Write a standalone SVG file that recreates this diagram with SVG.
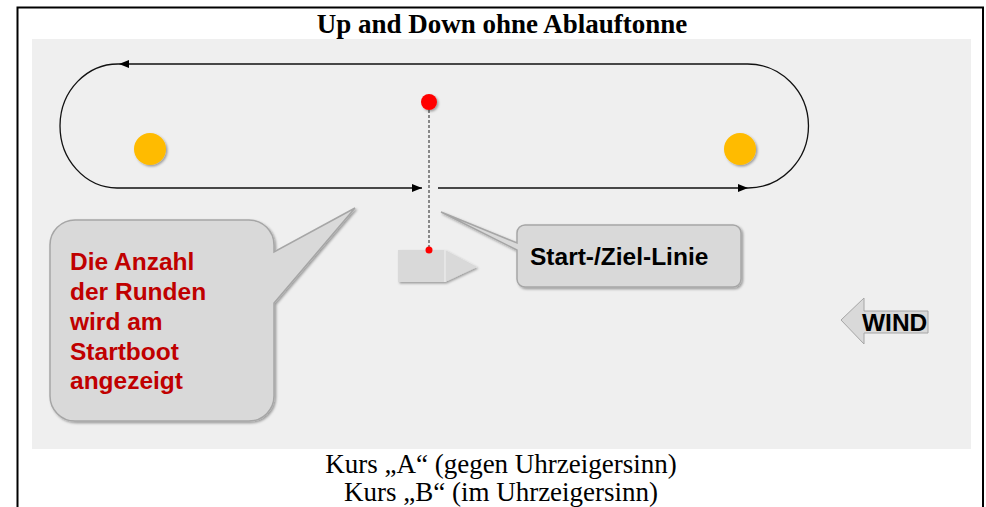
<svg xmlns="http://www.w3.org/2000/svg" width="986" height="507" viewBox="0 0 986 507">
<defs>
<style>
.title{font-family:"Liberation Serif","Times New Roman",serif;font-weight:bold;font-size:27px;fill:#000}
.cap{font-family:"Liberation Serif","Times New Roman",serif;font-size:27px;fill:#000}
.red{font-family:"Liberation Sans",Arial,sans-serif;font-weight:bold;font-size:24.5px;fill:#C00000}
.blk{font-family:"Liberation Sans",Arial,sans-serif;font-weight:bold;font-size:24.5px;fill:#000}
.track{fill:none;stroke:#111;stroke-width:1.3}
.bubble{fill:#d9d9d9;stroke:#a6a6a6;stroke-width:1.5}
</style>
<marker id="ah" viewBox="0 0 10 10" refX="10" refY="5" markerWidth="10" markerHeight="10" markerUnits="userSpaceOnUse" orient="auto">
<path d="M0,1 L10,5 L0,9 Z" fill="#000"/>
</marker>
<filter id="sh" x="-30%" y="-30%" width="160%" height="160%">
<feDropShadow dx="1.5" dy="1.5" stdDeviation="1" flood-color="#000" flood-opacity="0.35"/>
</filter>
</defs>
<rect x="0" y="0" width="986" height="507" fill="#fff"/>
<path d="M17.5,515 V7.5 H983 V515" fill="none" stroke="#000" stroke-width="2"/>
<rect x="32" y="39" width="939" height="410" fill="#efefef"/>
<text class="title" x="502" y="33" text-anchor="middle">Up and Down ohne Ablauftonne</text>

<g id="connectors">
<path class="track" d="M747,64 H119" marker-end="url(#ah)"/>
<path class="track" d="M119,64 A58,62 0 0 0 117,188 H422" marker-end="url(#ah)"/>
<path class="track" d="M438,188 H748" marker-end="url(#ah)"/>
<path class="track" d="M748,188 A61,62 0 0 0 747,64"/>
<line x1="429" y1="110" x2="429" y2="250" stroke="#444" stroke-width="1.2" stroke-dasharray="3,2"/>
</g>

<g id="buoy-left"><circle cx="150" cy="149" r="16" fill="#FFBB00" filter="url(#sh)"/></g>
<g id="buoy-right"><circle cx="740" cy="149" r="16" fill="#FFBB00" filter="url(#sh)"/></g>
<g id="pin-buoy"><circle cx="429" cy="102" r="8" fill="#FF0000" filter="url(#sh)"/></g>

<g id="startboat">
<path d="M398,250 H445 L477,267 L445,282 H398 Z" fill="#d9d9d9" filter="url(#sh)"/>
<line x1="445" y1="250" x2="445" y2="282" stroke="#f2f2f2" stroke-width="1"/>
<circle cx="429" cy="250" r="3.5" fill="#FF0000"/>
</g>

<g id="callout-runden">
<path class="bubble" filter="url(#sh)" d="M75,220 H249 A25,25 0 0 1 274,245 V252 L355,208 L274,303 V396 A25,25 0 0 1 249,421 H75 A25,25 0 0 1 50,396 V245 A25,25 0 0 1 75,220 Z"/>
<text class="red" x="70" y="270">Die Anzahl</text>
<text class="red" x="70" y="300">der Runden</text>
<text class="red" x="70" y="330">wird am</text>
<text class="red" x="70" y="360">Startboot</text>
<text class="red" x="70" y="389">angezeigt</text>
</g>

<g id="callout-linie">
<path class="bubble" filter="url(#sh)" d="M525,225 H733 A8,8 0 0 1 741,233 V279 A8,8 0 0 1 733,287 H525 A8,8 0 0 1 517,279 V250 L441,212 L517,243 V233 A8,8 0 0 1 525,225 Z"/>
<text class="blk" x="530" y="265">Start-/Ziel-Linie</text>
</g>

<g id="wind">
<path d="M841,320 L864,298 V311 H928 V333 H864 V344 Z" fill="#d9d9d9" stroke="#a6a6a6" stroke-width="1"/>
<text class="blk" x="862" y="331">WIND</text>
</g>

<text class="cap" x="501" y="473" text-anchor="middle">Kurs „A“ (gegen Uhrzeigersinn)</text>
<text class="cap" x="501" y="501" text-anchor="middle">Kurs „B“ (im Uhrzeigersinn)</text>
</svg>
